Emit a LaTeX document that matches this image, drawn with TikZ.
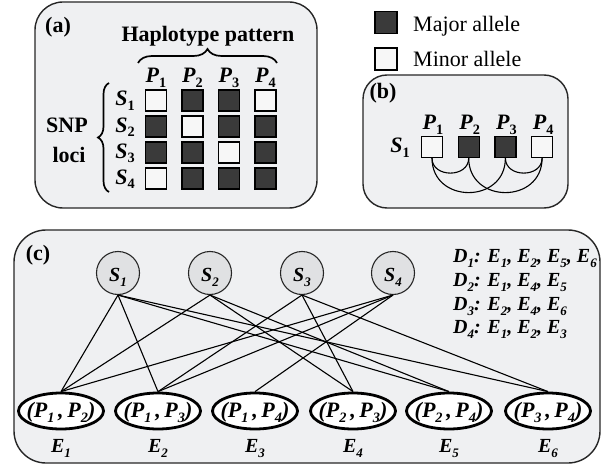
\documentclass[tikz,border=0pt]{standalone}
\usepackage{fontspec}
\setmainfont{Liberation Serif}
\usetikzlibrary{shapes.geometric,decorations.pathreplacing}

\definecolor{panelbg}{HTML}{EFF0F2}
\definecolor{majorc}{HTML}{3A3A3A}
\definecolor{minorc}{HTML}{F7F7F7}
\definecolor{snpfill}{HTML}{E0E1E3}

\newcommand\subu[1]{\raisebox{-0.22em}{\scalebox{0.65}{\upshape #1}}}
\newcommand\subi[1]{\raisebox{-0.25em}{\scalebox{0.65}{#1}}}

\tikzset{
  panel/.style={draw=black!85, line width=1.4pt, fill=panelbg, rounded corners=#1},
  majsq/.style={draw=black, line width=1.2pt, fill=majorc, minimum size=21pt, inner sep=0},
  minsq/.style={draw=black, line width=1.2pt, fill=minorc, minimum size=21pt, inner sep=0},
  bigbf/.style={font=\fontsize{22}{24}\selectfont\bfseries, inner sep=0},
  bigit/.style={font=\fontsize{22}{24}\selectfont\bfseries\itshape, inner sep=0},
  bigrm/.style={font=\fontsize{22}{24}\selectfont, inner sep=0},
  cit/.style={font=\fontsize{20}{22}\selectfont\bfseries\itshape, inner sep=0},
  snode/.style={circle, draw=black!85, line width=1.1pt, fill=snpfill, minimum size=43pt, inner sep=0},
  enode/.style={ellipse, draw=black, line width=2.8pt, fill=white, minimum width=85pt, minimum height=36pt, inner sep=0},
  link/.style={line width=1.1pt},
  bracestyle/.style={decorate, line width=1.7pt, decoration={brace, amplitude=#1}},
}

\begin{document}
\begin{tikzpicture}[x=1pt, y=-1pt]
\useasboundingbox (0,0) rectangle (605,468);

% ---------------- panel (a)
\draw[panel=28pt] (35,2) rectangle (317,208);
\node[bigbf, anchor=base] (la) at (58,33) {(a)};
\node[bigbf, anchor=base] (hap) at (208,42) {Haplotype pattern};
\draw[bracestyle=14pt] (138,63) -- (277,63);
\foreach \c in {1,2,3,4}{
  \node[bigit, anchor=base] (pa\c) at ({156+36.5*(\c-1)},83) {P\subu{\c}};
}
\foreach \r/\a/\b/\c/\d in {1/minsq/majsq/majsq/minsq, 2/majsq/minsq/majsq/majsq, 3/majsq/majsq/minsq/majsq, 4/minsq/majsq/majsq/majsq}{
  \node[\a] (a\r1) at (156,{100.5+26*(\r-1)}) {};
  \node[\b] (a\r2) at (192.5,{100.5+26*(\r-1)}) {};
  \node[\c] (a\r3) at (229,{100.5+26*(\r-1)}) {};
  \node[\d] (a\r4) at (265.5,{100.5+26*(\r-1)}) {};
  \node[bigit, anchor=base] (sa\r) at (125,{106+26*(\r-1)}) {S\subu{\r}};
}
\draw[bracestyle=11pt] (109,192) -- (109,83);
\node[bigbf, anchor=base] (snp) at (67,132) {SNP};
\node[bigbf, anchor=base] (loci) at (69,163) {loci};

% ---------------- legend
\node[majsq, minimum size=22pt] (lgmaj) at (386,22.5) {};
\node[bigrm, anchor=base west] (lgmajt) at (413,31.5) {Major allele};
\node[minsq, minimum size=22pt] (lgmin) at (386,59) {};
\node[bigrm, anchor=base west] (lgmint) at (413,67) {Minor allele};

% ---------------- panel (b)
\draw[panel=24pt] (363,75) rectangle (568,208);
\node[bigbf, anchor=base] (lb) at (383,99) {(b)};
\node[bigit, anchor=base] (sb1) at (400,153) {S\subu{1}};
\foreach \c/\s in {1/minsq,2/majsq,3/majsq,4/minsq}{
  \node[\s] (b\c) at ({432+36.7*(\c-1)},147) {};
  \node[bigit, anchor=base] (pb\c) at ({433+36.7*(\c-1)},130) {P\subu{\c}};
}
\draw[link] (b1.south) .. controls +(0,20) and +(0,20) .. (b2.south);
\draw[link] (b3.south) .. controls +(0,20) and +(0,20) .. (b4.south);
\draw[link] (b1.south) .. controls +(0,46) and +(0,46) .. (b3.south);
\draw[link] (b2.south) .. controls +(0,46) and +(0,46) .. (b4.south);

% ---------------- panel (c)
\draw[panel=32pt] (14,230) rectangle (600,463);
\node[bigbf, anchor=base] (lc) at (38,260) {(c)};

\foreach \i/\x in {1/118,2/210,3/302,4/393}{
  \node[snode] (S\i) at (\x,273) {};
  \node[cit] (St\i) at (\x,277) {S\subi{\i}};
}
\foreach \i/\x/\p/\q in {1/61/1/2,2/158/1/3,3/255/1/4,4/353/2/3,5/449/2/4,6/548/3/4}{
  \node[enode] (E\i) at (\x,411) {};
  \node[bigit, anchor=base] (Et\i) at (\x,417) {(P\subi{\p}\,,\,P\subi{\q})};
  \node[cit, anchor=base] (El\i) at (\x,452) {E\subi{\i}};
}

\foreach \s/\e in {1/1,1/2,1/5,1/6,2/1,2/4,2/5,3/2,3/4,3/6,4/1,4/2,4/3}{
  \draw[link] (S\s.south) -- (E\e.north);
}

\node[cit, anchor=base west] (D1) at (453,262) {D\subi{1}: E\subi{1}, E\subi{2}, E\subi{5}, E\subi{6}};
\node[cit, anchor=base west] (D2) at (453,286) {D\subi{2}: E\subi{1}, E\subi{4}, E\subi{5}};
\node[cit, anchor=base west] (D3) at (453,310) {D\subi{3}: E\subi{2}, E\subi{4}, E\subi{6}};
\node[cit, anchor=base west] (D4) at (453,333) {D\subi{4}: E\subi{1}, E\subi{2}, E\subi{3}};
\end{tikzpicture}
\end{document}
